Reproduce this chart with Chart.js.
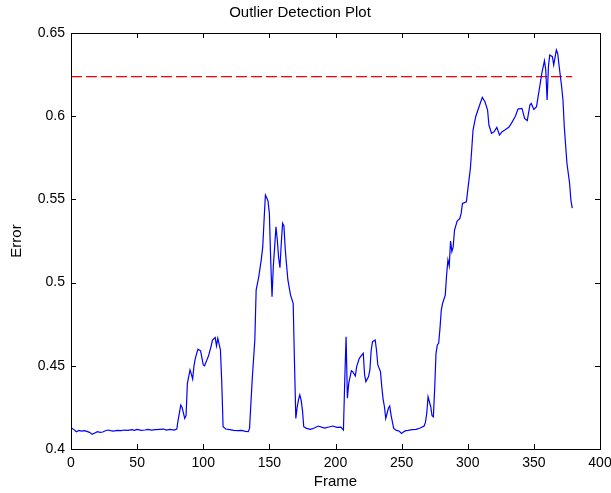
<!DOCTYPE html>
<html>
<head>
    <title>Outlier Detection Plot</title>
    <script src="https://cdn.jsdelivr.net/npm/chart.js"></script>
    <style>
        html, body { margin: 0; padding: 0; background: #fff; }
        #wrap { width: 611px; height: 493px; }
    </style>
</head>
<body>
    <div id="wrap">
        <canvas id="outlierChart" width="611" height="493"></canvas>
    </div>

    <script>
        // values (frame number, reconstruction error)
        const frames = [
            0, 2, 4, 6, 8, 10, 12, 14, 16, 18, 20, 22, 24, 26, 28, 30, 32, 35, 38, 40,
            43, 46, 48, 50, 53, 56, 58, 61, 64, 67, 70, 72, 75, 78, 80, 81, 83, 84, 86, 87,
            88, 90, 91, 92, 93, 94, 96, 98, 100, 101, 103, 104, 106, 107, 109, 110, 111, 113, 114, 115,
            117, 120, 123, 126, 129, 132, 134, 135, 137, 139, 140, 142, 144, 145, 146, 147, 148, 149, 150, 151,
            152, 153, 154, 155, 156, 157, 158, 159, 160, 161, 162, 163, 164, 166, 168, 169, 170, 171, 172, 173,
            174, 175, 176, 178, 181, 184, 187, 190, 192, 195, 198, 201, 204, 206, 207, 208, 209, 210, 212, 213,
            215, 216, 218, 220, 221, 222, 223, 225, 226, 227, 228, 230, 231, 232, 234, 235, 236, 237, 238, 240,
            241, 242, 244, 246, 248, 250, 251, 253, 255, 258, 261, 264, 267, 268, 269, 270, 272, 273, 274, 275,
            276, 277, 278, 279, 280, 281, 283, 284, 285, 286, 287, 288, 289, 290, 292, 294, 295, 296, 299, 300,
            302, 303, 304, 306, 309, 311, 313, 315, 316, 318, 320, 322, 324, 326, 328, 331, 333, 336, 338, 341,
            343, 345, 347, 348, 350, 352, 354, 356, 358, 359, 360, 361, 362, 364, 365, 367, 368, 369, 371, 372,
            373, 375, 377, 378, 379
        ];
        const errors = [
            0.4128, 0.4118, 0.4104, 0.4112, 0.4108, 0.4110, 0.4106, 0.4100, 0.4088, 0.4096, 0.4104, 0.4100, 0.4102, 0.4110, 0.4114, 0.4110, 0.4108, 0.4112, 0.4110, 0.4114,
            0.4112, 0.4116, 0.4112, 0.4118, 0.4112, 0.4114, 0.4118, 0.4114, 0.4116, 0.4118, 0.4120, 0.4114, 0.4118, 0.4114, 0.4120, 0.4174, 0.4264, 0.4250, 0.4184, 0.4200,
            0.4395, 0.4475, 0.4450, 0.4420, 0.4500, 0.4545, 0.4600, 0.4590, 0.4505, 0.4500, 0.4540, 0.4560, 0.4620, 0.4655, 0.4670, 0.4620, 0.4665, 0.4595, 0.4400, 0.4134,
            0.4120, 0.4116, 0.4112, 0.4110, 0.4112, 0.4106, 0.4104, 0.4124, 0.4415, 0.4655, 0.4955, 0.5036, 0.5146, 0.5216, 0.5376, 0.5526, 0.5510, 0.5490, 0.5416, 0.5136,
            0.4915, 0.5100, 0.5216, 0.5336, 0.5256, 0.5150, 0.5090, 0.5236, 0.5356, 0.5340, 0.5200, 0.5106, 0.5016, 0.4925, 0.4876, 0.4515, 0.4184, 0.4250, 0.4295, 0.4325,
            0.4295, 0.4234, 0.4134, 0.4124, 0.4118, 0.4126, 0.4138, 0.4130, 0.4126, 0.4132, 0.4138, 0.4130, 0.4132, 0.4114, 0.4415, 0.4675, 0.4305, 0.4395, 0.4470, 0.4465,
            0.4439, 0.4495, 0.4545, 0.4565, 0.4575, 0.4445, 0.4405, 0.4435, 0.4475, 0.4595, 0.4645, 0.4655, 0.4595, 0.4505, 0.4465, 0.4374, 0.4300, 0.4254, 0.4184, 0.4245,
            0.4258, 0.4204, 0.4124, 0.4112, 0.4108, 0.4094, 0.4100, 0.4110, 0.4112, 0.4116, 0.4118, 0.4126, 0.4138, 0.4160, 0.4215, 0.4314, 0.4254, 0.4200, 0.4194, 0.4365,
            0.4575, 0.4625, 0.4635, 0.4725, 0.4835, 0.4876, 0.4925, 0.5046, 0.5136, 0.5100, 0.5250, 0.5186, 0.5216, 0.5316, 0.5370, 0.5386, 0.5416, 0.5476, 0.5486, 0.5556,
            0.5687, 0.5800, 0.5917, 0.5997, 0.6067, 0.6113, 0.6087, 0.6037, 0.5947, 0.5897, 0.5907, 0.5933, 0.5887, 0.5907, 0.5917, 0.5933, 0.5957, 0.6000, 0.6043, 0.6047,
            0.5987, 0.5973, 0.6067, 0.6077, 0.6041, 0.6057, 0.6157, 0.6258, 0.6333, 0.6278, 0.6097, 0.6298, 0.6368, 0.6358, 0.6308, 0.6398, 0.6378, 0.6308, 0.6177, 0.6097,
            0.5937, 0.5717, 0.5597, 0.5496, 0.5447
        ];
        const threshold = 0.6238;
        const thresholdSpan = [0, 379];

        const xTicks = [0, 50, 100, 150, 200, 250, 300, 350, 400];
        const yTicks = [0.4, 0.45, 0.5, 0.55, 0.6, 0.65];

        const FONT = "'Liberation Sans', Arial, Helvetica, sans-serif";

        // MATLAB style box with inward ticks on all four sides
        const boxPlugin = {
            id: 'matlabBox',
            afterDatasetsDraw(chart) {
                const { ctx, chartArea: a, scales } = chart;
                const len = 5;
                ctx.save();
                ctx.strokeStyle = '#000';
                ctx.lineWidth = 1;
                ctx.beginPath();
                xTicks.forEach(v => {
                    const px = Math.round(scales.x.getPixelForValue(v)) + 0.5;
                    ctx.moveTo(px, a.bottom); ctx.lineTo(px, a.bottom - len);
                    ctx.moveTo(px, a.top); ctx.lineTo(px, a.top + len);
                });
                yTicks.forEach(v => {
                    const py = Math.round(scales.y.getPixelForValue(v)) + 0.5;
                    ctx.moveTo(a.left, py); ctx.lineTo(a.left + len, py);
                    ctx.moveTo(a.right, py); ctx.lineTo(a.right - len, py);
                });
                ctx.stroke();
                ctx.strokeRect(Math.round(a.left) + 0.5, Math.round(a.top) + 0.5,
                    Math.round(a.right - a.left), Math.round(a.bottom - a.top));
                ctx.restore();
            }
        };

        const ctx = document.getElementById('outlierChart').getContext('2d');
        new Chart(ctx, {
            type: 'line',
            data: {
                datasets: [
                    {
                        label: 'Error',
                        data: frames.map((f, i) => ({ x: f, y: errors[i] })),
                        borderColor: '#0000ff',
                        borderWidth: 1.2,
                        pointRadius: 0,
                        tension: 0,
                        fill: false
                    },
                    {
                        label: 'Threshold',
                        data: thresholdSpan.map(f => ({ x: f, y: threshold })),
                        borderColor: '#ff0000',
                        borderWidth: 1.2,
                        borderDash: [11, 4],
                        pointRadius: 0,
                        fill: false
                    }
                ]
            },
            options: {
                responsive: false,
                animation: false,
                layout: { padding: { left: 0, right: 11, top: 0, bottom: 0 } },
                plugins: {
                    legend: { display: false },
                    tooltip: { enabled: false },
                    title: {
                        display: true,
                        text: 'Outlier Detection Plot',
                        color: '#000',
                        font: { family: FONT, size: 15, weight: 'normal' },
                        padding: { top: 4, bottom: 11 }
                    }
                },
                scales: {
                    x: {
                        type: 'linear',
                        min: 0,
                        max: 400,
                        afterBuildTicks: s => { s.ticks = xTicks.map(v => ({ value: v })); },
                        afterFit: s => { s.height = 44; s.paddingLeft = 0; s.paddingRight = 0; },
                        grid: { display: false, drawTicks: false },
                        border: { display: false },
                        ticks: {
                            color: '#000',
                            padding: 6,
                            maxRotation: 0,
                            font: { family: FONT, size: 14 }
                        },
                        title: {
                            display: true,
                            text: 'Frame',
                            color: '#000',
                            font: { family: FONT, size: 15 },
                            padding: { top: 0, bottom: 2 }
                        }
                    },
                    y: {
                        min: 0.4,
                        max: 0.65,
                        afterBuildTicks: s => { s.ticks = yTicks.map(v => ({ value: v })); },
                        afterFit: s => { s.width = 71; s.paddingTop = 0; s.paddingBottom = 0; },
                        grid: { display: false, drawTicks: false },
                        border: { display: false },
                        ticks: {
                            color: '#000',
                            padding: 6,
                            font: { family: FONT, size: 14 },
                            callback: v => String(+v.toFixed(2))
                        },
                        title: {
                            display: true,
                            text: 'Error',
                            color: '#000',
                            font: { family: FONT, size: 15 },
                            padding: { top: 8, bottom: 0 }
                        }
                    }
                }
            },
            plugins: [boxPlugin]
        });
    </script>
</body>
</html>
